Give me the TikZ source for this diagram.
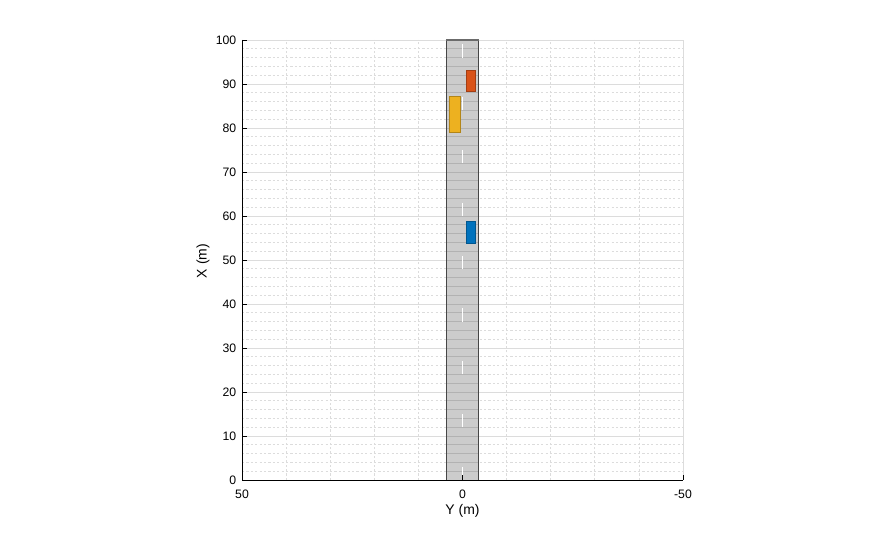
\documentclass[tikz,border=0pt]{standalone}
\usepackage{fontspec}
\setmainfont{Liberation Sans}
\definecolor{gridgray}{RGB}{220,220,220}
\definecolor{roadgray}{RGB}{204,204,204}
\definecolor{roadline}{RGB}{178,178,178}
\definecolor{roadedge}{RGB}{70,70,70}
\definecolor{egoblue}{RGB}{0,114,189}
\definecolor{caryellow}{RGB}{237,177,32}
\definecolor{carorange}{RGB}{217,83,25}
\begin{document}
\begin{tikzpicture}[x=1bp, y=1bp, font=\fontsize{12.3}{14}\selectfont,
  minorgrid/.style={gridgray, line width=0.7bp, dash pattern=on 2.2bp off 2.2bp},
  majorgrid/.style={gridgray, line width=0.7bp},
  vehicle/.style={draw=#1!75!black, fill=#1, line width=0.6bp},
  axislabel/.style={font=\fontsize{14}{16}\selectfont}]
  \useasboundingbox (0,0) rectangle (895,540);
  % plot area: Y (m) runs right to left, X (m) upwards
  \begin{scope}[xshift=462.5bp, yshift=60bp, x=-4.41bp, y=4.4bp]
    % grid
    \foreach \gx in {2,4,...,98} {\draw[minorgrid] (50,\gx) -- (-50,\gx);}
    \foreach \gy in {40,30,...,-40} {\draw[minorgrid] (\gy,0) -- (\gy,100);}
    \foreach \gx in {10,20,...,100} {\draw[majorgrid] (50,\gx) -- (-50,\gx);}
    \draw[majorgrid] (-50,0) -- (-50,100);
    % road
    \fill[roadgray] (3.7,0) rectangle (-3.7,100);
    \foreach \gx in {2,4,...,98} {\draw[roadline, line width=0.7bp] (3.7,\gx) -- (-3.7,\gx);}
    \foreach \lx in {0,12,...,96} {\draw[white, line width=1.8bp] (0,\lx) -- (0,\lx+3);}
    \draw[roadedge, line width=0.8bp] (3.7,0) rectangle (-3.7,100);
    \draw[roadedge!80, line width=1.2bp] (3.7,100) -- (-3.7,100);
    % vehicles
    \draw[vehicle=caryellow] (3.0,79) rectangle (0.4,87.3);
    \draw[vehicle=carorange] (-0.95,88.3) rectangle (-2.8,93.2);
    \draw[vehicle=egoblue] (-0.95,53.8) rectangle (-2.8,58.7);
    % axes and ticks
    \draw[black, line width=0.8bp] (50,100) -- (50,0) -- (-50,0);
    \foreach \tx in {0,10,...,100} {
      \draw[black, line width=0.8bp] (50,\tx) -- ++(-1.1,0);
      \node[anchor=east, inner sep=0pt, xshift=-5.5bp] (xtick\tx) at (50,\tx) {\tx};
    }
    \foreach \ty/\tn in {50/a, 0/b, -50/c} {
      \draw[black, line width=0.8bp] (\ty,0) -- ++(0,1.1);
      \node[anchor=north, inner sep=0pt, yshift=-10bp] (ytick\tn) at (\ty,0) {\ty};
    }
  \end{scope}
  \node[axislabel] (ylabel) at (462.5,29) {Y (m)};
  \node[axislabel, rotate=90] (xlabel) at (203,279) {X (m)};
\end{tikzpicture}
\end{document}
